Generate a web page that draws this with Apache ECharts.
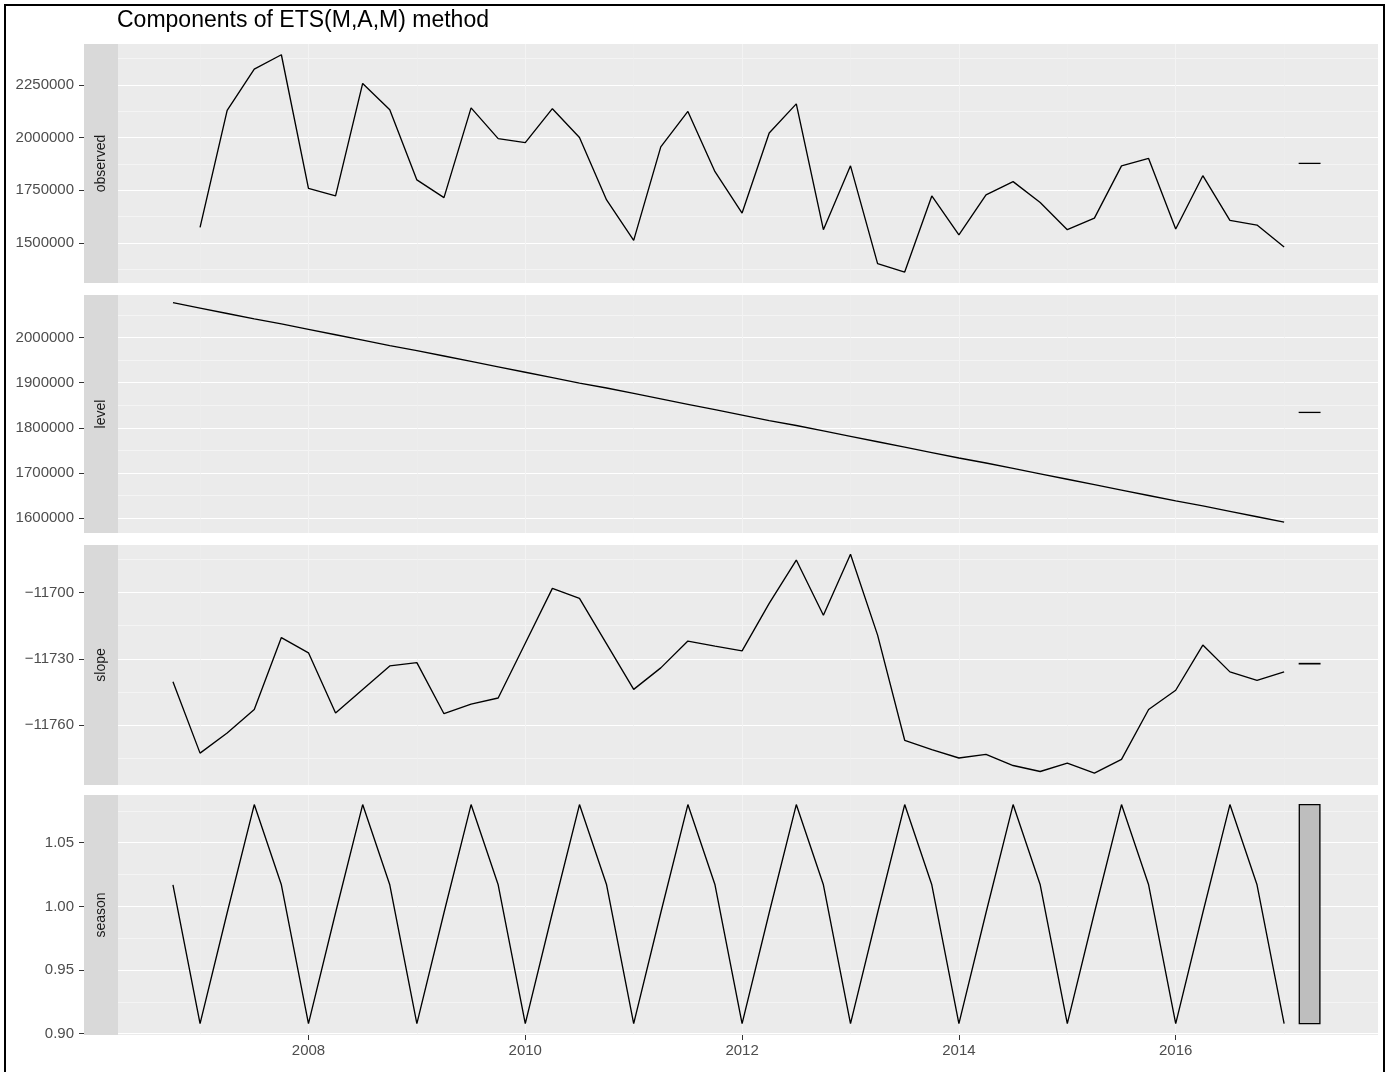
<!DOCTYPE html>
<html>
<head>
<meta charset="utf-8">
<script src="https://cdn.jsdelivr.net/npm/echarts@6/dist/echarts.min.js"></script>
<style>
html,body{margin:0;padding:0;background:#ffffff;}
#chart{width:1387px;height:1072px;}
</style>
</head>
<body>
<div id="chart"></div>
<script>
// ---------------- DATA ----------------
const chartTitle = 'Components of ETS(M,A,M) method';
const panelNames = ['observed', 'level', 'slope', 'season'];
const observedStart = 2007.0;   // first observation (quarterly)
const stateStart = 2006.75;     // states include the initial state one quarter earlier
const frequency = 4;

const observed = [1574000, 2129000, 2325000, 2393000, 1759000, 1723000, 2257000, 2132000,
  1799000, 1715000, 2141000, 1995000, 1976000, 2137000, 2000000, 1704000, 1512000, 1956000,
  2124000, 1838000, 1642000, 2022000, 2160000, 1563000, 1866000, 1402000, 1362000, 1723000,
  1538000, 1728000, 1791000, 1692000, 1563000, 1618000, 1866000, 1901000, 1566000, 1819000,
  1607000, 1585000, 1481000];

const level = [2077000, 2065000, 2053000, 2041000, 2030000, 2018000, 2006000, 1994000,
  1982000, 1971000, 1959000, 1947000, 1935000, 1923000, 1911000, 1899000, 1888000, 1876000,
  1864000, 1852000, 1840000, 1828000, 1816000, 1805000, 1793000, 1781000, 1769000, 1757000,
  1745000, 1733000, 1722000, 1710000, 1698000, 1686000, 1674000, 1662000, 1650000, 1638000,
  1627000, 1615000, 1603000, 1591000];

const slope = [-11740.4, -11772.6, -11763.5, -11752.9, -11720.4, -11727.3, -11754.5, -11743.9,
  -11733.2, -11731.7, -11754.8, -11750.5, -11747.7, -11723.0, -11698.2, -11702.7, -11723.3,
  -11743.8, -11734.1, -11722.0, -11724.3, -11726.4, -11705.0, -11685.4, -11710.3, -11682.8,
  -11719.3, -11766.8, -11771.0, -11774.8, -11773.2, -11778.2, -11780.9, -11777.1, -11781.6,
  -11775.4, -11752.9, -11744.2, -11723.8, -11735.9, -11739.7, -11735.9];

const season = [1.017, 0.908, 0.995, 1.080, 1.017, 0.908, 0.995, 1.080, 1.017, 0.908, 0.995,
  1.080, 1.017, 0.908, 0.995, 1.080, 1.017, 0.908, 0.995, 1.080, 1.017, 0.908, 0.995, 1.080,
  1.017, 0.908, 0.995, 1.080, 1.017, 0.908, 0.995, 1.080, 1.017, 0.908, 0.995, 1.080, 1.017,
  0.908, 0.995, 1.080, 1.017, 0.908];

// tick labels
const xTicks = [2008, 2010, 2012, 2014, 2016];
const xMinorTicks = [2007, 2009, 2011, 2013, 2015, 2017];
const observedTicks = [1500000, 1750000, 2000000, 2250000];
const observedMinor = [1375000, 1625000, 1875000, 2125000, 2375000];
const levelTicks = [1600000, 1700000, 1800000, 1900000, 2000000];
const levelMinor = [1650000, 1750000, 1850000, 1950000, 2050000];
const slopeTicks = [-11760, -11730, -11700];
const slopeMinor = [-11775, -11745, -11715, -11685];
const seasonTicks = [0.90, 0.95, 1.00, 1.05];
const seasonMinor = [0.925, 0.975, 1.025, 1.075];

// ---------------- LAYOUT ----------------
const xRange = [2006.243, 2017.866];
const rangeBarX = [2017.14, 2017.33];
const panels = [
  { top: 44,  height: 239, min: 1310000,  max: 2444000,  ticks: observedTicks, minor: observedMinor,
    fmt: v => String(v) },
  { top: 295, height: 238, min: 1567000,  max: 2094000,  ticks: levelTicks, minor: levelMinor,
    fmt: v => String(v) },
  { top: 545, height: 240, min: -11787.0, max: -11678.6, ticks: slopeTicks, minor: slopeMinor,
    fmt: v => (v < 0 ? '\u2212' + String(Math.abs(v)) : String(v)) },
  { top: 795, height: 240, min: 0.899,    max: 1.0875,   ticks: seasonTicks, minor: seasonMinor,
    fmt: v => v.toFixed(2) }
];
const seriesData = [
  observed.map((v, i) => [observedStart + i / frequency, v]),
  level.map((v, i) => [stateStart + i / frequency, v]),
  slope.map((v, i) => [stateStart + i / frequency, v]),
  season.map((v, i) => [stateStart + i / frequency, v])
];
const rawSeries = [observed, level, slope, season];
const seasonHalf = (Math.max(...season) - Math.min(...season)) / 2;

const gridLeft = 118, gridRight = 9, stripW = 34;
const fontFam = '"Liberation Sans", Arial, sans-serif';

const grids = [], xAxes = [], yAxes = [], series = [], graphics = [];
panels.forEach((p, i) => {
  const last = i === panels.length - 1;
  grids.push({ left: gridLeft, right: gridRight, top: p.top, height: p.height,
    show: true, backgroundColor: '#EBEBEB', borderWidth: 0, containLabel: false });
  // major x
  xAxes.push({ type: 'value', gridIndex: i, min: xRange[0], max: xRange[1],
    axisLine: { show: false },
    axisTick: { show: last, customValues: xTicks, length: 5, lineStyle: { color: '#333333', width: 1 } },
    axisLabel: { show: last, customValues: xTicks, fontSize: 15, color: '#4D4D4D', margin: 8,
      fontFamily: fontFam, formatter: v => String(v) },
    splitLine: { show: true, lineStyle: { color: '#F3F3F3', width: 1.1 } } });
  // minor x (gridlines only)
  xAxes.push({ type: 'value', gridIndex: i, min: xRange[0], max: xRange[1], position: 'bottom',
    axisLine: { show: false }, axisTick: { show: false, customValues: xMinorTicks },
    axisLabel: { show: false }, splitLine: { show: true, lineStyle: { color: '#EFEFEF', width: 0.6 } } });
  // major y
  yAxes.push({ type: 'value', gridIndex: i, min: p.min, max: p.max, position: 'left', offset: stripW,
    axisLine: { show: false },
    axisTick: { show: true, customValues: p.ticks, length: 5, lineStyle: { color: '#333333', width: 1 } },
    axisLabel: { show: true, customValues: p.ticks, fontSize: 15, color: '#4D4D4D', margin: 10,
      fontFamily: fontFam, formatter: p.fmt },
    splitLine: { show: true, lineStyle: { color: '#FFFFFF', width: 1.1 } } });
  // minor y
  yAxes.push({ type: 'value', gridIndex: i, min: p.min, max: p.max, position: 'left',
    axisLine: { show: false }, axisTick: { show: false, customValues: p.minor },
    axisLabel: { show: false }, splitLine: { show: true, lineStyle: { color: '#FAFAFA', width: 0.6 } } });

  series.push({ type: 'line', xAxisIndex: 2 * i, yAxisIndex: 2 * i, data: seriesData[i],
    showSymbol: false, symbol: 'none', silent: true, animation: false,
    lineStyle: { color: '#000000', width: 1.35 }, z: 5 });

  const raw = rawSeries[i];
  const mid = (Math.max(...raw) + Math.min(...raw)) / 2;
  series.push({ type: 'custom', xAxisIndex: 2 * i, yAxisIndex: 2 * i, silent: true, animation: false, z: 6,
    data: [[rangeBarX[0], rangeBarX[1], mid, seasonHalf]],
    renderItem: (params, api) => {
      const a = api.coord([api.value(0), api.value(2) + api.value(3)]);
      const b = api.coord([api.value(1), api.value(2) - api.value(3)]);
      return { type: 'rect',
        shape: { x: a[0], y: a[1], width: b[0] - a[0], height: Math.max(b[1] - a[1], 0) },
        style: { fill: '#BEBEBE', stroke: '#000000', lineWidth: 1.3 } };
    } });

  // strip
  graphics.push({ type: 'rect', left: gridLeft - stripW, top: p.top,
    shape: { width: stripW, height: p.height }, style: { fill: '#D9D9D9' }, silent: true });
  graphics.push({ type: 'text', x: gridLeft - stripW / 2, y: p.top + p.height / 2, rotation: Math.PI / 2,
    style: { text: panelNames[i], fill: '#1A1A1A', fontSize: 14, fontFamily: fontFam,
      align: 'center', verticalAlign: 'middle' }, silent: true });
});

// outer frame of the screenshot
graphics.push({ type: 'line', shape: { x1: 5, y1: 4, x2: 5, y2: 1072 }, style: { stroke: '#000', lineWidth: 2 }, silent: true });
graphics.push({ type: 'line', shape: { x1: 4, y1: 5, x2: 1385, y2: 5 }, style: { stroke: '#000', lineWidth: 2 }, silent: true });
graphics.push({ type: 'line', shape: { x1: 1384, y1: 4, x2: 1384, y2: 1072 }, style: { stroke: '#000', lineWidth: 2 }, silent: true });

const chart = echarts.init(document.getElementById('chart'), null, { renderer: 'canvas' });
chart.setOption({
  animation: false,
  backgroundColor: '#FFFFFF',
  title: { text: chartTitle, left: 117, top: 9, padding: 0,
    textStyle: { fontSize: 23, fontWeight: 'normal', color: '#000000', fontFamily: fontFam } },
  grid: grids,
  xAxis: xAxes,
  yAxis: yAxes,
  series: series,
  graphic: graphics
});
</script>
</body>
</html>
